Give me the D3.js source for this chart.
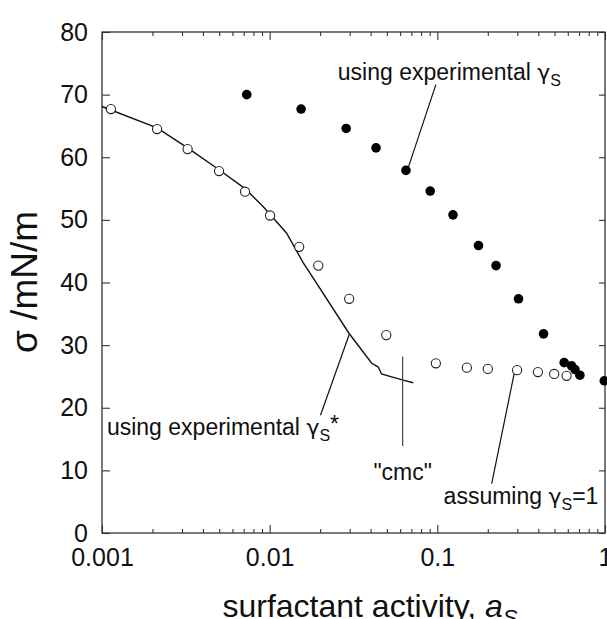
<!DOCTYPE html>
<html><head><meta charset="utf-8">
<script src="https://cdn.jsdelivr.net/npm/d3@7"></script>
<style>body{margin:0;background:#fff} svg{display:block}</style>
</head><body><svg id="c" width="607" height="619"></svg>
<script>
// ---- data ----
const openActivity   = [0.00113,0.00213,0.00324,0.00499,0.00713,0.01005,0.0150,0.0195,0.0298,0.0496,0.098,0.150,0.200,0.299,0.398,0.498,0.590];
const openSigma      = [67.7,64.5,61.3,57.8,54.5,50.7,45.7,42.7,37.4,31.6,27.1,26.4,26.2,26.0,25.7,25.4,25.1];
const filledActivity = [0.0073,0.0154,0.0286,0.0431,0.065,0.0907,0.124,0.176,0.224,0.305,0.430,0.571,0.632,0.662,0.708,0.99];
const filledSigma    = [70.0,67.7,64.6,61.5,57.9,54.6,50.8,45.9,42.7,37.4,31.8,27.2,26.7,26.1,25.2,24.3];
const lineActivity   = [0.001,0.00213,0.00324,0.00499,0.00713,0.00916,0.0126,0.0159,0.0182,0.0297,0.0406,0.0444,0.0465,0.0521,0.0626,0.0718];
const lineSigma      = [68.1,64.7,61.5,58.0,55.0,52.1,47.9,43.1,40.7,31.9,27.1,26.5,25.4,25.0,24.4,24.0];
const cmcActivity = 0.0621;
const cmcSigmaRange = [13.9, 28.2];
const xMajorTicks = [0.001,0.01,0.1,1];
const xTickLabels = ["0.001","0.01","0.1","1"];
const xMinorTicks = [2,3,4,5,6,7,8,9].flatMap(m => [0.001,0.01,0.1].map(d => +(m*d).toPrecision(3)));
const yTicks = [0,10,20,30,40,50,60,70,80];
const yTickLabels = ["0","10","20","30","40","50","60","70","80"];

// ---- layout ----
const svg = d3.select("#c");
const L = 102, T = 32, R = 605, B = 533;
const x = d3.scaleLog().domain([0.001, 1]).range([L, R]);
const y = d3.scaleLinear().domain([0, 80]).range([B, T]);
const font = "'Liberation Sans', Arial, Helvetica, sans-serif";
const greek = "'DejaVu Sans', sans-serif";
const ink = "#111";

// frame
svg.append("rect").attr("x", L).attr("y", T).attr("width", R-L).attr("height", B-T)
  .attr("fill","none").attr("stroke","#333").attr("stroke-width",1.3);

function styleAxis(g){
  g.select(".domain").remove();
  g.selectAll("line").attr("stroke","#333").attr("stroke-width",1.1);
  g.selectAll("text").attr("font-family",font).attr("font-size",25).attr("fill",ink);
}
// bottom axis
svg.append("g").attr("transform",`translate(0,${B})`)
  .call(d3.axisBottom(x).tickValues(xMajorTicks).tickFormat((d,i)=>xTickLabels[i]).tickSize(-8).tickSizeOuter(0).tickPadding(15))
  .call(styleAxis);
svg.append("g").attr("transform",`translate(0,${B})`)
  .call(d3.axisBottom(x).tickValues(xMinorTicks).tickFormat("").tickSize(-4).tickSizeOuter(0))
  .call(styleAxis);
// top axis
svg.append("g").attr("transform",`translate(0,${T})`)
  .call(d3.axisTop(x).tickValues(xMajorTicks).tickFormat("").tickSize(-8).tickSizeOuter(0))
  .call(styleAxis);
svg.append("g").attr("transform",`translate(0,${T})`)
  .call(d3.axisTop(x).tickValues(xMinorTicks).tickFormat("").tickSize(-4).tickSizeOuter(0))
  .call(styleAxis);
// left axis
svg.append("g").attr("transform",`translate(${L},0)`)
  .call(d3.axisLeft(y).tickValues(yTicks).tickFormat((d,i)=>yTickLabels[i]).tickSize(-8).tickSizeOuter(0).tickPadding(14))
  .call(styleAxis);
// right axis
svg.append("g").attr("transform",`translate(${R},0)`)
  .call(d3.axisRight(y).tickValues(yTicks).tickFormat("").tickSize(-6).tickSizeOuter(0))
  .call(styleAxis);

// curve
const lineData = lineActivity.map((a,i)=>[a,lineSigma[i]]);
svg.append("path").datum(lineData)
  .attr("d", d3.line().x(d=>x(d[0])).y(d=>y(d[1])))
  .attr("fill","none").attr("stroke",ink).attr("stroke-width",1.4);

// cmc line
svg.append("line").attr("x1",x(cmcActivity)).attr("x2",x(cmcActivity))
  .attr("y1",y(cmcSigmaRange[0])).attr("y2",y(cmcSigmaRange[1]))
  .attr("stroke","#444").attr("stroke-width",1.2);

// open circles
svg.append("g").selectAll("circle").data(openActivity.map((a,i)=>[a,openSigma[i]])).join("circle")
  .attr("cx",d=>x(d[0])).attr("cy",d=>y(d[1])).attr("r",4.6)
  .attr("fill","#fff").attr("stroke","#222").attr("stroke-width",1.1);
// filled circles
svg.append("g").selectAll("circle").data(filledActivity.map((a,i)=>[a,filledSigma[i]])).join("circle")
  .attr("cx",d=>x(d[0])).attr("cy",d=>y(d[1])).attr("r",4.8)
  .attr("fill","#000");

// leader lines
const leaders = [
  [[0.098,71.6],[0.067,58.3]],
  [[0.0201,18.8],[0.0298,31.7]],
  [[0.211,7.9],[0.287,25.4]]
];
leaders.forEach(l => svg.append("line")
  .attr("x1",x(l[0][0])).attr("y1",y(l[0][1])).attr("x2",x(l[1][0])).attr("y2",y(l[1][1]))
  .attr("stroke",ink).attr("stroke-width",1.2));

// annotation texts
function gammaLabel(px, py, pre, post){
  const t = svg.append("text").attr("x",px).attr("y",py).attr("font-family",font)
    .attr("font-size",23).attr("fill",ink);
  t.append("tspan").text(pre);
  t.append("tspan").attr("font-family",greek).attr("font-size",22).text("γ");
  t.append("tspan").attr("font-size",16).attr("dy",6).text("S");
  if (post) t.append("tspan").attr("dy", post.dy).attr("font-size", post.size).text(post.text);
  return t;
}
gammaLabel(x(0.0255), y(72.4), "using experimental ");
gammaLabel(x(0.00107), y(15.7), "using experimental ", {text:"*", dy:-9, size:23});
gammaLabel(x(0.109), y(4.7), "assuming ", {text:"=1", dy:-6, size:23});
svg.append("text").attr("x",x(cmcActivity)).attr("y",y(8.5)).attr("text-anchor","middle")
  .attr("font-family",font).attr("font-size",23).attr("fill",ink).text("\"cmc\"");

// axis titles
const xt = svg.append("text").attr("x",370).attr("y",617).attr("text-anchor","middle")
  .attr("font-family",font).attr("font-size",32).attr("fill",ink);
xt.append("tspan").text("surfactant activity, ");
xt.append("tspan").attr("font-style","italic").text("a");
xt.append("tspan").attr("font-style","italic").attr("font-size",22).attr("dy",8).text("S");

svg.append("text").attr("transform","translate(37,282) rotate(-90)").attr("text-anchor","middle")
  .attr("font-family",font).attr("font-size",37).attr("fill",ink).text("σ /mN/m");
</script></body></html>
